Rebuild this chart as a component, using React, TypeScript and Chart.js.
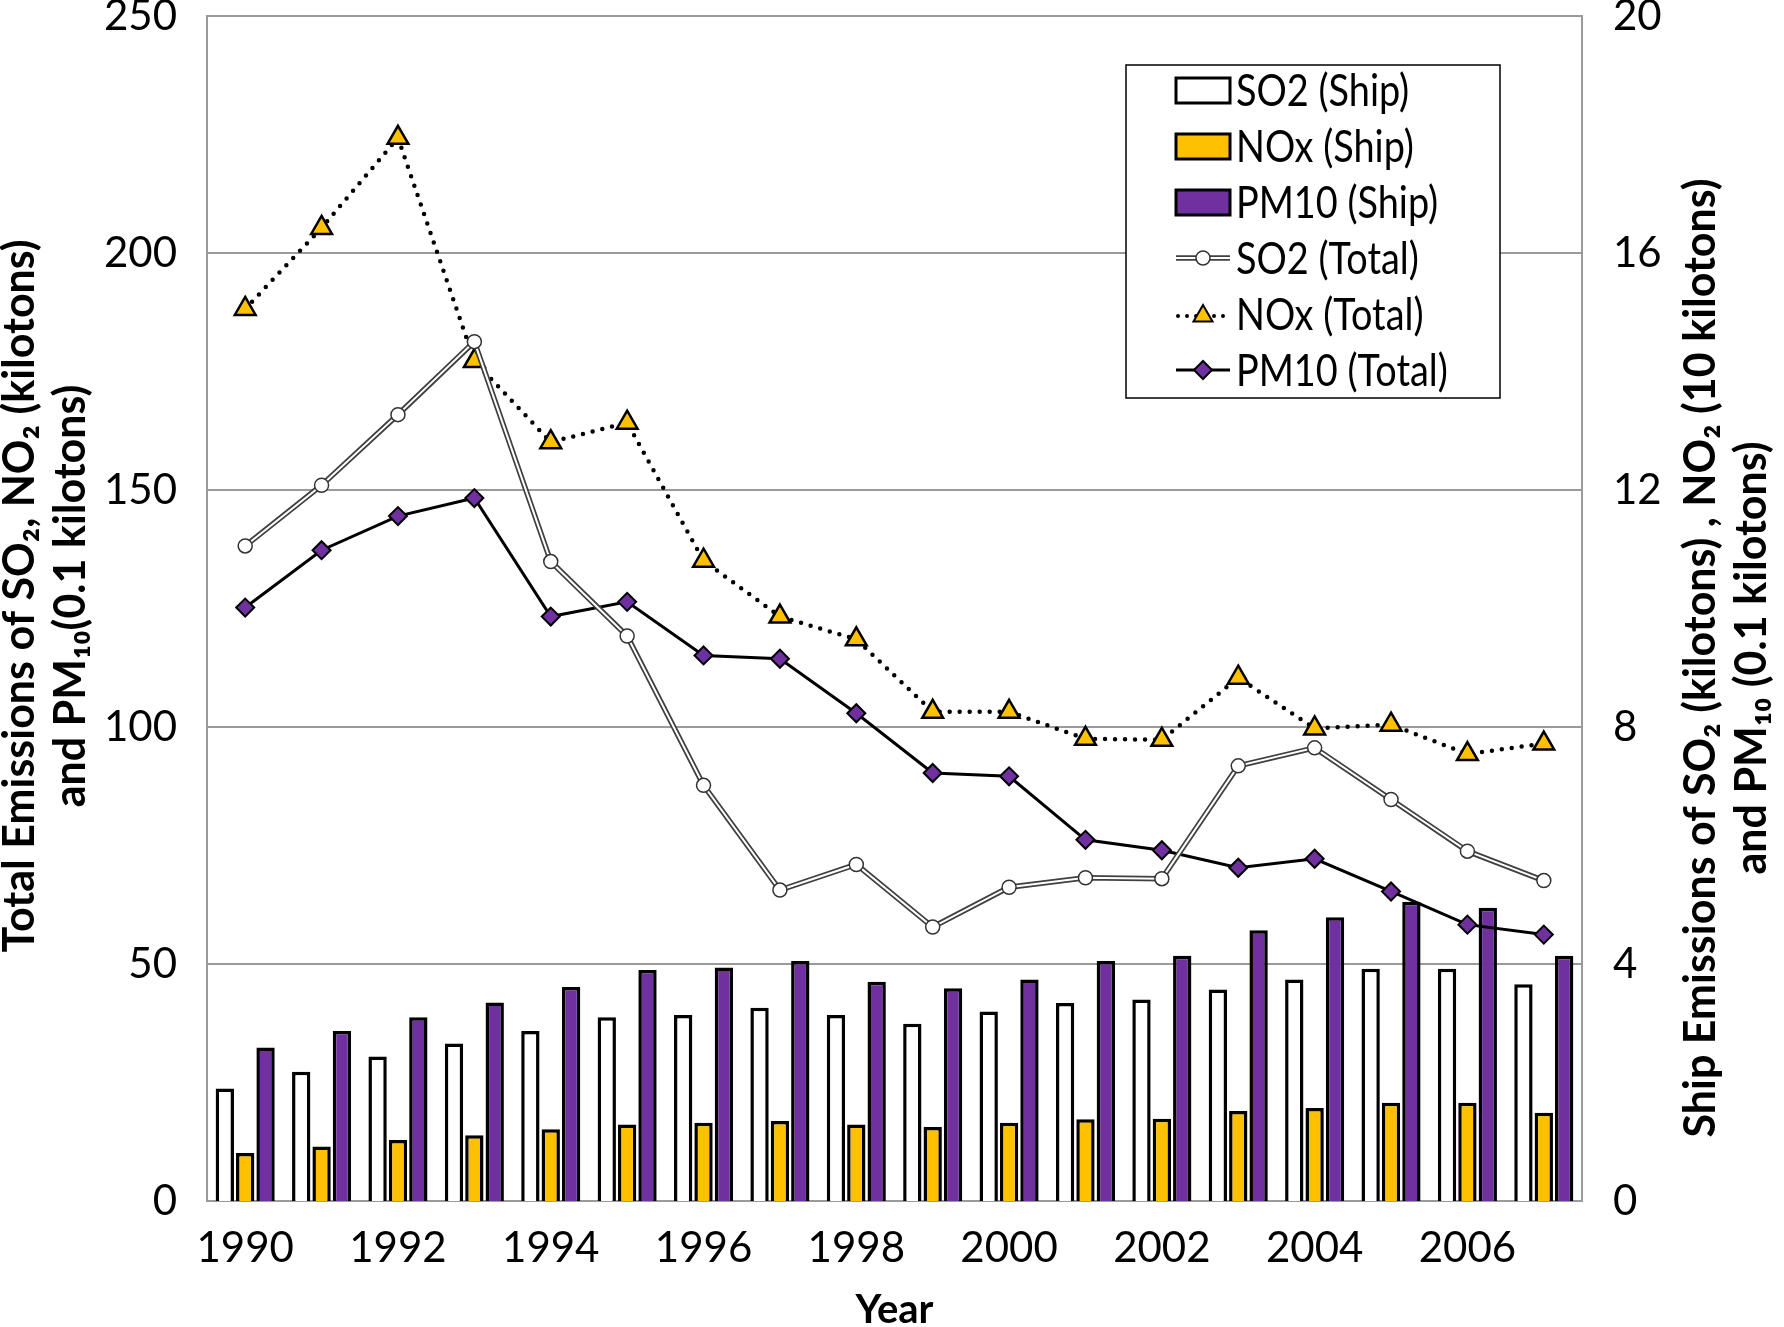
import { useEffect, useRef } from "react";
import { Chart, registerables } from "chart.js";

Chart.register(...registerables);

// Years on the category axis (labels shown every other year)
const years = [
  "1990", "1991", "1992", "1993", "1994", "1995", "1996", "1997", "1998",
  "1999", "2000", "2001", "2002", "2003", "2004", "2005", "2006", "2007",
];

// Ship emissions, right axis (SO2 kt, NO2 10 kt, PM10 0.1 kt)
const so2Ship = [1.9, 2.18, 2.44, 2.66, 2.87, 3.1, 3.14, 3.26, 3.14, 2.99, 3.2, 3.34, 3.4, 3.57, 3.74, 3.92, 3.92, 3.66];
const noxShip = [0.81, 0.92, 1.03, 1.11, 1.21, 1.29, 1.32, 1.35, 1.29, 1.25, 1.32, 1.38, 1.39, 1.52, 1.57, 1.66, 1.66, 1.49];
const pm10Ship = [2.59, 2.87, 3.1, 3.35, 3.61, 3.9, 3.94, 4.05, 3.7, 3.59, 3.74, 4.05, 4.14, 4.57, 4.79, 5.05, 4.95, 4.14];

// Total emissions, left axis
const so2Total = [138.2, 151, 165.9, 181.3, 134.9, 119.2, 87.7, 65.6, 71, 57.8, 66.2, 68.2, 68, 91.8, 95.6, 84.7, 73.8, 67.6];
const noxTotal = [188.2, 205.3, 224.3, 177.2, 160.1, 164.2, 135.1, 123.3, 118.5, 103.2, 103.2, 97.5, 97.3, 110.4, 99.7, 100.5, 94.3, 96.5];
const pm10Total = [125.2, 137.3, 144.5, 148.3, 123.3, 126.4, 115.1, 114.4, 102.9, 90.3, 89.6, 76.2, 74, 70.3, 72.2, 65.3, 58.3, 56.2];

const legendLabels = ["SO2 (Ship)", "NOx (Ship)", "PM10 (Ship)", "SO2 (Total)", "NOx (Total)", "PM10 (Total)"];
const leftTitle = ["Total Emissions of SO\u2082, NO\u2082 (kilotons)", "and PM\u2081\u2080(0.1 kilotons)"];
const rightTitle = ["Ship Emissions of SO\u2082 (kilotons) , NO\u2082 (10 kilotons)", "and PM\u2081\u2080 (0.1 kilotons)"];

const YELLOW = "#FFC000";
const PURPLE = "#7030A0";
const GRID = "#9a9a9a";
const FONT = "Lato, 'Open Sans', sans-serif";

function marker(ctx: CanvasRenderingContext2D, kind: string, x: number, y: number, r: number) {
  ctx.beginPath();
  if (kind === "circle") {
    ctx.arc(x, y, r, 0, Math.PI * 2);
  } else if (kind === "triangle") {
    ctx.moveTo(x, y - r);
    ctx.lineTo(x + r * 0.866, y + r * 0.5);
    ctx.lineTo(x - r * 0.866, y + r * 0.5);
    ctx.closePath();
  } else {
    ctx.moveTo(x - r, y);
    ctx.lineTo(x, y - r);
    ctx.lineTo(x + r, y);
    ctx.lineTo(x, y + r);
    ctx.closePath();
  }
  ctx.fill();
  ctx.stroke();
}

// the legend lettering in the original is a bit narrower than Lato
function narrowText(ctx: CanvasRenderingContext2D, text: string, x: number, y: number, squeeze: number) {
  ctx.fillText(text, x, y, ctx.measureText(text).width * squeeze);
}

// Boxed legend inside the plot plus both vertical axis titles
const extrasPlugin = {
  id: "extras",
  afterDraw(chart: Chart) {
    const { ctx, chartArea } = chart;
    const left = chartArea.left + 919;
    const top = chartArea.top + 49;
    ctx.save();
    ctx.fillStyle = "#fff";
    ctx.fillRect(left, top, 374, 333);
    ctx.strokeStyle = "#000";
    ctx.lineWidth = 1.5;
    ctx.strokeRect(left, top, 374, 333);

    const x1 = left + 50;
    const x2 = left + 104;
    const xm = (x1 + x2) / 2;
    legendLabels.forEach((label, i) => {
      const y = top + 25 + i * 56;
      ctx.setLineDash([]);
      if (i < 3) {
        ctx.fillStyle = ["#fff", YELLOW, PURPLE][i];
        ctx.strokeStyle = "#000";
        ctx.lineWidth = 3;
        ctx.fillRect(x1, y - 12, 54, 25);
        ctx.strokeRect(x1, y - 12, 54, 25);
      } else if (i === 3) {
        ctx.strokeStyle = "#404040";
        ctx.lineWidth = 5.5;
        ctx.beginPath();
        ctx.moveTo(x1, y);
        ctx.lineTo(x2, y);
        ctx.stroke();
        ctx.strokeStyle = "#fff";
        ctx.lineWidth = 2;
        ctx.stroke();
        ctx.fillStyle = "#fff";
        ctx.strokeStyle = "#333";
        ctx.lineWidth = 1.5;
        marker(ctx, "circle", xm, y, 7);
      } else if (i === 4) {
        ctx.strokeStyle = "#000";
        ctx.lineWidth = 4;
        ctx.lineCap = "round";
        ctx.setLineDash([0, 9]);
        ctx.beginPath();
        ctx.moveTo(x1 + 2, y + 2);
        ctx.lineTo(x2, y + 2);
        ctx.stroke();
        ctx.setLineDash([]);
        ctx.lineCap = "butt";
        ctx.fillStyle = YELLOW;
        ctx.lineWidth = 2;
        marker(ctx, "triangle", xm, y + 2, 11);
      } else {
        ctx.strokeStyle = "#000";
        ctx.lineWidth = 3;
        ctx.beginPath();
        ctx.moveTo(x1, y);
        ctx.lineTo(x2, y);
        ctx.stroke();
        ctx.fillStyle = PURPLE;
        ctx.lineWidth = 2;
        marker(ctx, "diamond", xm, y, 9);
      }
      ctx.fillStyle = "#000";
      ctx.font = `44px ${FONT}`;
      ctx.textAlign = "left";
      ctx.textBaseline = "middle";
      narrowText(ctx, label, x2 + 6, y + 2, 0.86);
    });

    ctx.font = `bold 43px ${FONT}`;
    ctx.textAlign = "center";
    ctx.textBaseline = "middle";
    ctx.fillStyle = "#000";

    ctx.save();
    ctx.translate(20, chartArea.top + 580);
    ctx.rotate(-Math.PI / 2);
    leftTitle.forEach((line, i) => ctx.fillText(line, 0, i * 51));
    ctx.restore();

    ctx.translate(chartArea.right + 119, chartArea.top + 642);
    ctx.rotate(-Math.PI / 2);
    rightTitle.forEach((line, i) => ctx.fillText(line, 0, i * 51));
    ctx.restore();
  },
};

export default function App() {
  const canvasRef = useRef<HTMLCanvasElement>(null);
  const chartRef = useRef<Chart | null>(null);

  useEffect(() => {
    if (!canvasRef.current) return;
    chartRef.current?.destroy();
    const tickFont = { family: FONT, size: 42 };
    chartRef.current = new Chart(canvasRef.current, {
      type: "bar",
      data: {
        labels: years,
        datasets: [
          {
            type: "line",
            label: "SO2 (Total)",
            data: so2Total,
            yAxisID: "y",
            borderColor: "#fff",
            borderWidth: 2,
            pointStyle: "circle",
            pointRadius: 7,
            pointBackgroundColor: "#fff",
            pointBorderColor: "#333",
            pointBorderWidth: 1.5,
            order: 0,
          },
          {
            type: "line",
            label: "SO2 (Total) edge",
            data: so2Total,
            yAxisID: "y",
            borderColor: "#404040",
            borderWidth: 5.5,
            pointRadius: 0,
            order: 1,
          },
          {
            type: "line",
            label: "PM10 (Total)",
            data: pm10Total,
            yAxisID: "y",
            borderColor: "#000",
            borderWidth: 3,
            pointStyle: "rectRot",
            pointRadius: 9,
            pointBackgroundColor: PURPLE,
            pointBorderColor: "#000",
            pointBorderWidth: 2,
            order: 2,
          },
          {
            type: "line",
            label: "NOx (Total)",
            data: noxTotal,
            yAxisID: "y",
            borderColor: "#000",
            borderWidth: 4.5,
            borderDash: [0, 10],
            borderCapStyle: "round",
            pointStyle: "triangle",
            pointRadius: 12,
            pointBackgroundColor: YELLOW,
            pointBorderColor: "#000",
            pointBorderWidth: 2.5,
            order: 3,
          },
          {
            label: "SO2 (Ship)",
            data: so2Ship,
            yAxisID: "y1",
            backgroundColor: "#fff",
            borderColor: "#000",
            borderWidth: 3.5,
            order: 4,
          },
          {
            label: "NOx (Ship)",
            data: noxShip,
            yAxisID: "y1",
            backgroundColor: YELLOW,
            borderColor: "#000",
            borderWidth: 3.5,
            order: 5,
          },
          {
            label: "PM10 (Ship)",
            data: pm10Ship,
            yAxisID: "y1",
            backgroundColor: PURPLE,
            borderColor: "#000",
            borderWidth: 3.5,
            order: 6,
          },
        ],
      },
      options: {
        responsive: false,
        devicePixelRatio: 1,
        animation: false,
        layout: { padding: { top: 16, left: 0, right: 0, bottom: 0 } },
        datasets: { bar: { categoryPercentage: 0.8, barPercentage: 0.9 } },
        scales: {
          x: {
            grid: { display: false, drawTicks: false },
            border: { display: true, color: GRID, width: 2 },
            ticks: {
              font: tickFont,
              color: "#000",
              padding: 22,
              autoSkip: false,
              maxRotation: 0,
              callback: (_v, i) => (i % 2 === 0 ? years[i] : ""),
            },
            title: {
              display: true,
              text: "Year",
              font: { family: FONT, size: 40, weight: "bold", lineHeight: 1 },
              color: "#000",
              padding: { top: 0, bottom: -3 },
            },
            afterFit: (s) => {
              s.height = 126;
              s.paddingLeft = 0;
              s.paddingRight = 0;
            },
          },
          y: {
            position: "left",
            min: 0,
            max: 250,
            ticks: { stepSize: 50, font: tickFont, color: "#000", padding: 30 },
            grid: { color: GRID, lineWidth: 2, drawTicks: false },
            border: { display: true, color: GRID, width: 2 },
            afterFit: (s) => {
              s.width = 207;
              s.paddingTop = 0;
              s.paddingBottom = 0;
            },
          },
          y1: {
            position: "right",
            min: 0,
            max: 20,
            ticks: { stepSize: 4, font: tickFont, color: "#000", padding: 31 },
            grid: { display: false, drawTicks: false },
            border: { display: true, color: GRID, width: 2 },
            afterFit: (s) => {
              s.width = 202;
              s.paddingTop = 0;
              s.paddingBottom = 0;
            },
          },
        },
        plugins: { legend: { display: false }, tooltip: { enabled: false } },
      },
      plugins: [extrasPlugin],
    });
    return () => chartRef.current?.destroy();
  }, []);

  return (
    <div style={{ position: "absolute", left: 0, top: 0, width: 1784, height: 1327, background: "#fff" }}>
      <canvas ref={canvasRef} width={1784} height={1327} />
    </div>
  );
}
